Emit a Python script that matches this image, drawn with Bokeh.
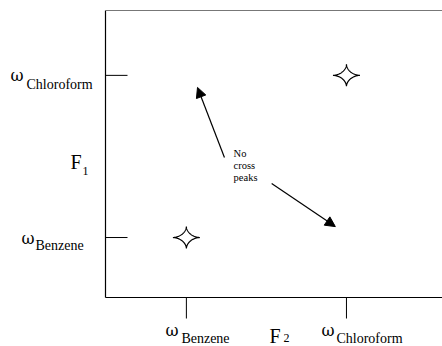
import numpy as np
from bokeh.plotting import figure
from bokeh.models import Range1d, Label, Arrow, NormalHead
from bokeh.embed import file_html
from bokeh.resources import INLINE

# ---- data (abstract chemical-shift positions, 0..100 scale) ----
species = ["Benzene", "Chloroform"]
f2_pos = [24.0, 71.5]          # F2 (horizontal) tick positions
f1_pos = [20.9, 77.4]          # F1 (vertical) tick positions
peak_x = [24.0, 71.5]          # diagonal peaks
peak_y = [20.9, 77.4]
arrow_start_x = [35.3, 49.3]
arrow_start_y = [48.8, 39.7]
arrow_end_x = [27.3, 68.2]
arrow_end_y = [73.2, 24.7]
note_lines = ["No", "cross", "peaks"]
note_x = 38.0
note_y = 49.0

# ---- layout: plot area inside the canvas (pixels) ----
W, H = 442, 346
PL, PR, PT, PB = 105, 442, 10, 297
sx = 100.0 / (PR - PL)          # data units per pixel
sy = 100.0 / (PB - PT)
XR = (-PL * sx, 100 + (W - PR) * sx)
YR = (-(H - PB) * sy, 100 + PT * sy)

p = figure(width=W, height=H, output_backend="svg", toolbar_location=None,
           x_range=Range1d(*XR), y_range=Range1d(*YR),
           min_border=0, min_border_left=0, min_border_right=0,
           min_border_top=0, min_border_bottom=0)
p.axis.visible = False
p.grid.visible = False
p.outline_line_color = None
p.background_fill_color = "white"

# axis frame lines
p.segment(x0=[0, 0], y0=[0, 0], x1=[100, 0], y1=[0, 100],
          line_color="black", line_width=1.2)
p.segment(x0=[0], y0=[100], x1=[100], y1=[100],
          line_color="#777777", line_width=1)

# ticks
p.segment(x0=[0] * len(f1_pos), y0=f1_pos, x1=[22 * sx] * len(f1_pos), y1=f1_pos,
          line_color="black", line_width=1)
p.segment(x0=f2_pos, y0=[0] * len(f2_pos), x1=f2_pos, y1=[-21 * sy] * len(f2_pos),
          line_color="black", line_width=1)

# ---- peaks: four-pointed stars ----
t = np.linspace(0, 2 * np.pi, 240)
a_px, b_px, e = 13.5, 11.0, 3.4
xs, ys = [], []
for px, py in zip(peak_x, peak_y):
    c, s = np.cos(t), np.sin(t)
    xs.append(px + a_px * sx * np.sign(c) * np.abs(c) ** e)
    ys.append(py + b_px * sy * np.sign(s) * np.abs(s) ** e)
p.patches(xs, ys, fill_color="white", line_color="black", line_width=1.2)

# ---- arrows ----
for x0, y0, x1, y1 in zip(arrow_start_x, arrow_start_y, arrow_end_x, arrow_end_y):
    p.add_layout(Arrow(x_start=x0, y_start=y0, x_end=x1, y_end=y1,
                       line_color="black", line_width=1.2,
                       end=NormalHead(size=10, fill_color="black",
                                      line_color="black")))

FONT = "'Liberation Serif', serif"
OMEGA_FONT = "'DejaVu Serif', serif"

def lab(x, y_base, text, size, font=FONT):
    # y_base is the wanted baseline (data units); draw with a middle baseline
    p.add_layout(Label(x=x, y=y_base + 0.36 * size * sy, text=text,
                       text_font=font, text_font_size=f"{size}px",
                       text_color="black", text_baseline="middle",
                       text_align="left"))

# note text
for i, line in enumerate(note_lines):
    lab(note_x, note_y - i * 12.3 * sy, line, 10.5)

# left (F1) tick labels: (omega dx, omega baseline below tick, sub dx, sub baseline)
left_off = {"Chloroform": (-95, 6, -79, 14), "Benzene": (-84, 7, -70, 13)}
for name, yv in zip(species, f1_pos):
    ox, oy, ox2, oy2 = left_off[name]
    lab(ox * sx, yv - oy * sy, "\u03c9", 16, OMEGA_FONT)
    lab(ox2 * sx, yv - oy2 * sy, name, 14)

# bottom (F2) tick labels
bot_off = {"Benzene": (-21, -5), "Chloroform": (-25, -10)}
for name, xv in zip(species, f2_pos):
    ox, ox2 = bot_off[name]
    lab(xv + ox * sx, -39 * sy, "\u03c9", 16, OMEGA_FONT)
    lab(xv + ox2 * sx, -46 * sy, name, 14)

# axis titles
lab(-35 * sx, (PB - 169) * sy, "F", 20)
lab(-23 * sx, (PB - 175) * sy, "1", 12)
lab((269 - PL) * sx, -46 * sy, "F", 20)
lab((283 - PL) * sx, -45 * sy, "2", 12)

open("out.html", "w").write(file_html(p, INLINE))
